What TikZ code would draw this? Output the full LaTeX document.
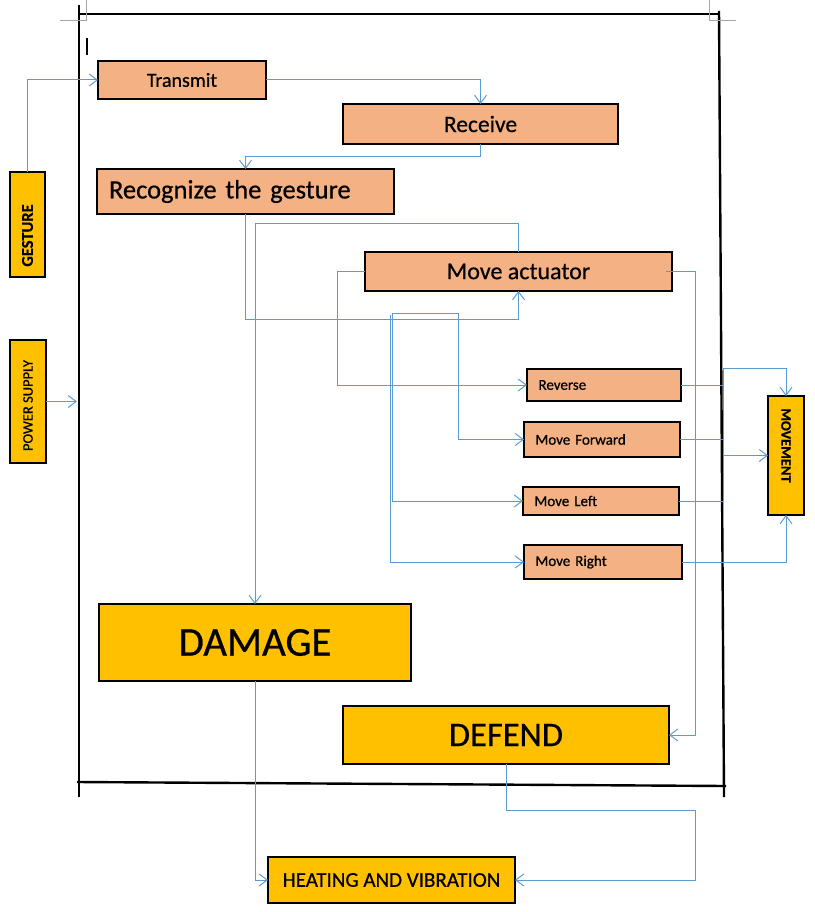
\documentclass[tikz,border=0pt]{standalone}
\usepackage{fontspec}
\setmainfont{Carlito}[FakeBold = 0.6]
\usetikzlibrary{positioning, arrows.meta}
\definecolor{salmon}{HTML}{F4B183}
\definecolor{amber}{HTML}{FFC000}
\definecolor{linkblue}{HTML}{5B9BD5}
\tikzstyle{process} = [rectangle, text centered, inner sep = 0pt, outer sep = 0pt, anchor = north west, draw = black, line width = 1.2pt, fill = salmon]
\tikzstyle{outcome} = [rectangle, text centered, inner sep = 0pt, outer sep = 0pt, anchor = north west, draw = black, line width = 1.2pt, fill = amber]
\tikzstyle{action} = [process, align = left, inner xsep = 11.5pt, font = \fontsize{15}{18}\selectfont]
\tikzstyle{wire} = [draw = linkblue, line width = 1pt]
\tikzstyle{link} = [wire, -{Straight Barb[length = 8pt, width = 12pt]}]
\tikzstyle{frame} = [draw = black, line width = 2.4pt]

\begin{document}
\begin{tikzpicture}[x = 1pt, y = 1pt]
\useasboundingbox (0,0) rectangle (814,-912);

% page frame and marks
\draw [frame] (79,-5) -- (79,-797);
\draw [frame] (80,-14) -- (720,-14);
\draw [frame] (719,-11) -- (724,-797);
\draw [frame] (77,-782) -- (726,-786);
\draw [gray!70, line width = 0.8pt] (86,0) -- (86,-20) -- (60,-20);
\draw [gray!70, line width = 0.8pt] (709,0) -- (709,-20) -- (736,-20);
\draw [line width = 1.5pt] (87,-38) -- (87,-55);

% steps
\node (transmit) [process, minimum width = 168pt, minimum height = 38pt, font = \fontsize{20}{24}\selectfont] at (98,-61) {Transmit};
\node (receive) [process, minimum width = 275pt, minimum height = 40pt, font = \fontsize{23.5}{28}\selectfont, below right = 5pt and 77pt of transmit.south east] {Receive};
\node (recognize) [process, minimum width = 297pt, minimum height = 45pt, text width = 273pt, align = left, inner xsep = 12pt, font = \fontsize{26.5}{32}\selectfont] at (97,-169) {Recognize the gesture};
\node (actuator) [process, minimum width = 307pt, minimum height = 39pt, font = \fontsize{24}{29}\selectfont] at (365,-252) {Move actuator};

\node (reverse) [action, text width = 131pt, minimum height = 32pt] at (527,-369) {Reverse};
\node (moveForward) [action, text width = 133pt, minimum height = 35pt, below = 21pt of reverse.south west, anchor = north west, xshift = -3pt] {Move Forward};
\node (moveLeft) [action, text width = 133pt, minimum height = 28pt, below = 30pt of moveForward.south west, anchor = north west, xshift = -1pt] {Move Left};
\node (moveRight) [action, text width = 135pt, minimum height = 34pt, below = 30pt of moveLeft.south west, anchor = north west, xshift = 1pt] {Move Right};

% results
\node (gesture) [outcome, minimum width = 35pt, minimum height = 105pt, font = \bfseries\fontsize{16.5}{20}\selectfont] at (10,-172) {\raisebox{0pt}[\dimexpr\height+22pt\relax]{\rotatebox{90}{GESTURE}}};
\node (power) [outcome, minimum width = 36pt, minimum height = 123pt, font = \fontsize{14.5}{17}\selectfont] at (10,-340) {\raisebox{0pt}[\dimexpr\height+8pt\relax]{\rotatebox{90}{POWER SUPPLY}}};
\node (movement) [outcome, minimum width = 36pt, minimum height = 119pt, font = \bfseries\fontsize{14.5}{17}\selectfont] at (768,-396) {\raisebox{0pt}[\height][\dimexpr\depth+20pt\relax]{\rotatebox{-90}{MOVEMENT}}};
\node (damage) [outcome, minimum width = 312pt, minimum height = 77pt, font = \fontsize{41}{49}\selectfont] at (99,-604) {DAMAGE};
\node (defend) [outcome, minimum width = 326pt, minimum height = 58pt, font = \fontsize{34.5}{41}\selectfont] at (343,-706) {DEFEND};
\node (heating) [outcome, minimum width = 247pt, minimum height = 46pt, font = \fontsize{21}{25}\selectfont] at (268,-857) {HEATING AND VIBRATION};

\coordinate (powerIn) at (77,-401.5);
\coordinate (split) at (392,-313);
\coordinate (busTop) at (723,-368);
\coordinate (busBot) at (busTop |- moveLeft.east);

\draw [link] (gesture.north) |- (transmit.west);
\draw [link] (power.east) -- (powerIn);
\draw [link] (transmit.east) -| (receive.north);
\draw [link] (receive.south) -- ++(0,-13) -| (recognize.north);
\draw [link] (recognize.south) -- ++(0,-105) -| (actuator.south);
\draw [link] (actuator.north) -- ++(0,29) -| (damage.north);
\draw [link] (actuator.west) -- ++(-28,0) |- (reverse.west);
\draw [link] ([xshift = -6pt]actuator.east) -- ++(29,0) |- (defend.east);
\draw [link] (split) -- ++(66,0) |- (moveForward.west);
\draw [link] (split) |- (moveLeft.west);
\draw [link] ([shift = {(-2,-2)}]split) |- (moveRight.west);

\draw [wire] (reverse.east) -- (busTop |- reverse.east);
\draw [wire] (moveForward.east) -- (busTop |- moveForward.east);
\draw [wire] (moveLeft.east) -- (busBot);
\draw [link] (busBot) -- (busTop) -| (movement.north);
\draw [link] (busBot |- movement.west) -- (movement.west);
\draw [link] (moveRight.east) -| (movement.south);

\draw [link] (damage.south) |- (heating.west);
\draw [link] (defend.south) -- ++(0,-46) -| ([xshift = 180pt]heating.east) -- (heating.east);
\end{tikzpicture}
\end{document}
